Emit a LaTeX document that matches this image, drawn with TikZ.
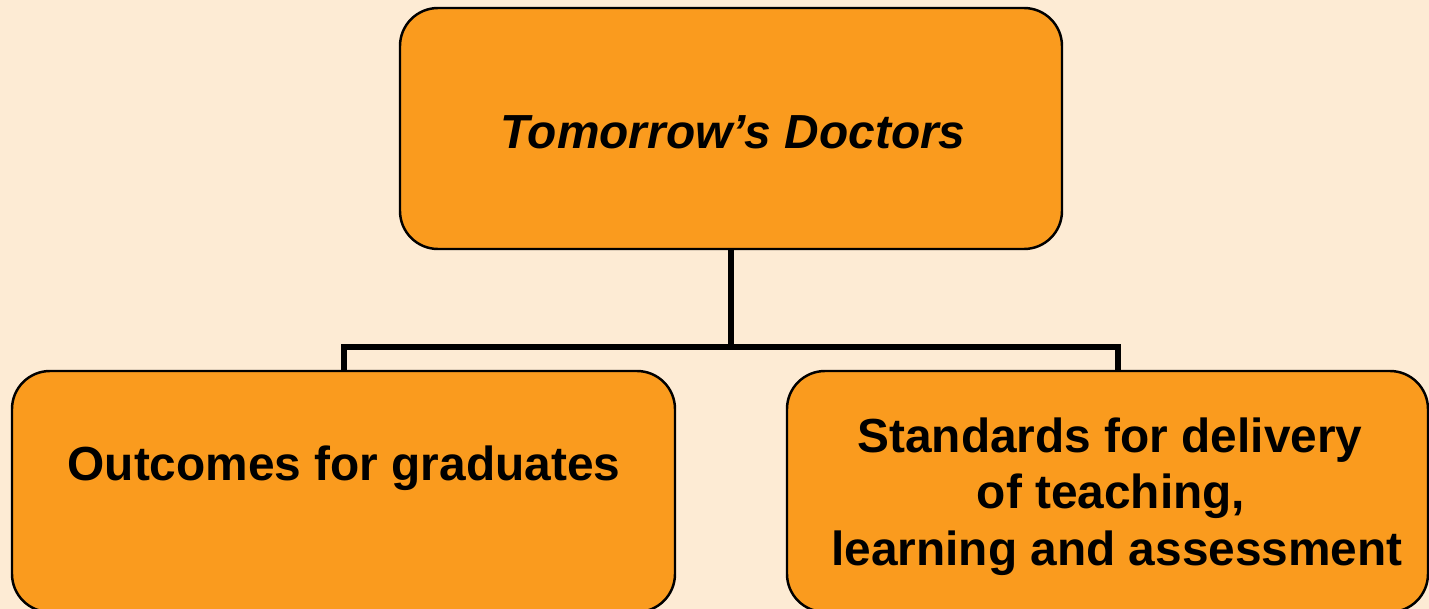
\documentclass[tikz,border=0pt]{standalone}
\usepackage{fontspec}
\setmainfont{Liberation Sans}
\definecolor{bgc}{HTML}{FDEBD4}
\definecolor{boxc}{HTML}{FA9B1E}
\begin{document}
\begin{tikzpicture}[x=0.01cm,y=-0.01cm,
  box/.style={draw=black,line width=0.7pt,fill=boxc,rounded corners=0.38cm},
  lbl/.style={font=\fontsize{13.6}{16}\selectfont\bfseries,anchor=base,inner sep=0pt},
  conn/.style={line width=1.45pt,draw=black}]
\useasboundingbox (0,0) rectangle (1429,609);
\clip (0,0) rectangle (1429,609);
\fill[bgc] (0,0) rectangle (1429,609);
\draw[box] (400,8) rectangle (1062,249);
\coordinate (topb) at (731,249);
\draw[box] (12,371) rectangle (675,612);
\draw[box] (787,371) rectangle (1428,612);
\coordinate (lt) at (344,371);
\coordinate (rt) at (1118,371);
\coordinate (mid) at (731,347);
\node[lbl] (t0) at (733,148) {\itshape Tomorrow’s Doctors};
\node[lbl] (t1) at (344,480) {Outcomes for graduates};
\node[lbl] (t2) at (1110,452) {Standards for delivery};
\node[lbl] (t3) at (1111,508) {of teaching,};
\node[lbl] (t4) at (1117,565) {learning and assessment};
\draw[conn] (topb) -- (mid);
\draw[conn] (lt) |- (mid) -| (rt);
\end{tikzpicture}
\end{document}
